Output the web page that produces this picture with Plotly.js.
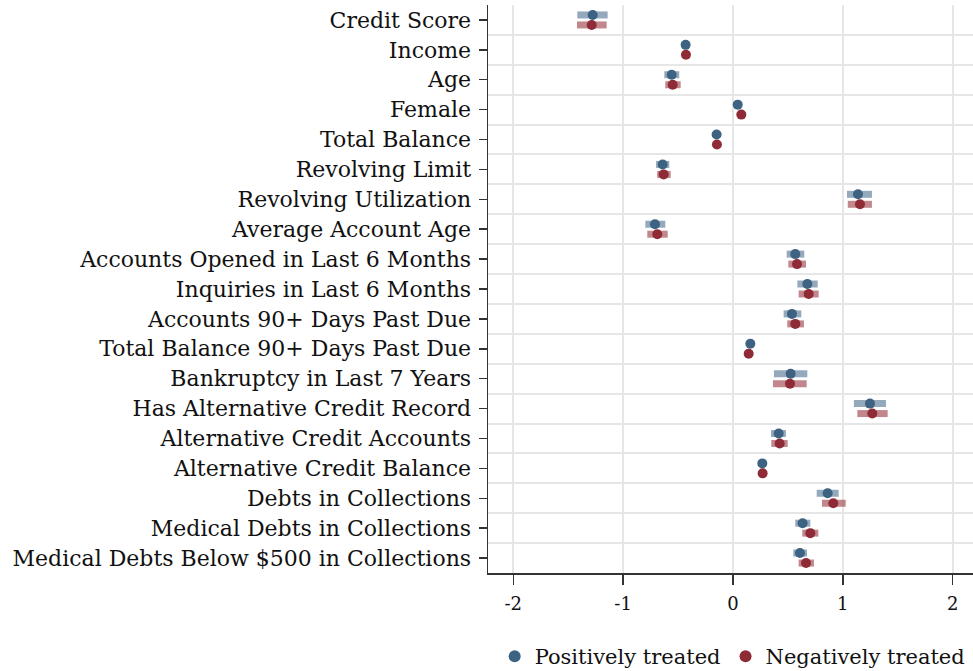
<!DOCTYPE html>
<html><head><meta charset="utf-8">
<script src="https://cdn.plot.ly/plotly-3.0.1.min.js"></script>
<style>html,body{margin:0;padding:0;background:#fff}#chart{width:973px;height:671px}</style>
</head><body><div id="chart"></div>
<script>
var categories = ["Credit Score","Income","Age","Female","Total Balance","Revolving Limit","Revolving Utilization","Average Account Age","Accounts Opened in Last 6 Months","Inquiries in Last 6 Months","Accounts 90+ Days Past Due","Total Balance 90+ Days Past Due","Bankruptcy in Last 7 Years","Has Alternative Credit Record","Alternative Credit Accounts","Alternative Credit Balance","Debts in Collections","Medical Debts in Collections","Medical Debts Below $500 in Collections"];
var posEst  = [-1.277,-0.431,-0.558,0.043,-0.149,-0.640,1.138,-0.710,0.567,0.677,0.537,0.158,0.525,1.247,0.416,0.267,0.862,0.634,0.610];
var posLow  = [-1.417,-0.460,-0.625,0.020,-0.175,-0.700,1.038,-0.798,0.489,0.586,0.461,0.135,0.373,1.101,0.346,0.245,0.762,0.567,0.549];
var posHigh = [-1.141,-0.400,-0.489,0.066,-0.123,-0.580,1.265,-0.616,0.649,0.771,0.622,0.181,0.677,1.393,0.482,0.290,0.962,0.704,0.674];
var negEst  = [-1.286,-0.428,-0.549,0.076,-0.146,-0.631,1.156,-0.689,0.583,0.689,0.567,0.143,0.519,1.268,0.425,0.270,0.913,0.704,0.665];
var negLow  = [-1.420,-0.455,-0.616,0.050,-0.172,-0.690,1.045,-0.780,0.504,0.598,0.494,0.120,0.364,1.132,0.349,0.248,0.810,0.631,0.598];
var negHigh = [-1.150,-0.400,-0.476,0.100,-0.120,-0.567,1.265,-0.594,0.665,0.780,0.646,0.166,0.671,1.408,0.498,0.292,1.026,0.777,0.737];
var xTicks = [-2,-1,0,1,2];

var idx = categories.map(function(c,i){return i;});
var off = 0.167;
function mk(name, est, lo, hi, yoff, col, ciCol){
  return {
    type:'scatter', mode:'markers', name:name,
    x: est, y: idx.map(function(i){return i+yoff;}),
    marker:{color:col, size:10, line:{width:0}},
    error_x:{type:'data', symmetric:false,
      array: est.map(function(v,i){return hi[i]-v;}),
      arrayminus: est.map(function(v,i){return v-lo[i];}),
      thickness:7, width:0, color:ciCol},
    hoverinfo:'x+name'
  };
}
var data = [
  mk('Positively treated', posEst, posLow, posHigh, -off, '#3d6282', 'rgba(90,123,150,0.65)'),
  mk('Negatively treated', negEst, negLow, negHigh, off, '#8f2b36', 'rgba(160,70,78,0.65)')
];
var font = "'DejaVu Serif', Georgia, serif";
var layout = {
  width:973, height:671,
  margin:{l:488, r:0, t:5, b:98, autoexpand:false},
  paper_bgcolor:'#fff', plot_bgcolor:'#fff',
  font:{family:font, color:'#111'},
  showlegend:true,
  legend:{orientation:'h', xref:'container', x:0.753, xanchor:'center', yref:'paper', y:-0.111, yanchor:'top',
    bgcolor:'rgba(0,0,0,0)', font:{family:font, size:21, color:'#111'}, itemsizing:'constant', tracegroupgap:0, itemwidth:30},
  xaxis:{range:[-2.23,2.185], tickvals:xTicks, ticktext:xTicks.map(String), automargin:false,
    showgrid:true, gridcolor:'#e6e6e6', gridwidth:2, zeroline:false,
    showline:true, linecolor:'#333', linewidth:1.5,
    ticks:'outside', ticklen:10, tickwidth:1.5, tickcolor:'#333',
    tickfont:{family:font, size:18, color:'#111'}, ticklabelstandoff:4},
  yaxis:{range:[18.5,-0.5], tickvals:idx, ticktext:categories, automargin:false,
    showgrid:false, zeroline:false,
    minor:{tickvals:idx.map(function(i){return i+0.5;}), showgrid:true, gridcolor:'#e6e6e6', gridwidth:2, ticks:''},
    showline:true, linecolor:'#333', linewidth:1.5,
    ticks:'outside', ticklen:8, tickwidth:1.5, tickcolor:'#333',
    tickfont:{family:font, size:22, color:'#111'}, ticklabelstandoff:3}
};
Plotly.newPlot('chart', data, layout, {displayModeBar:false, staticPlot:true});
</script></body></html>
